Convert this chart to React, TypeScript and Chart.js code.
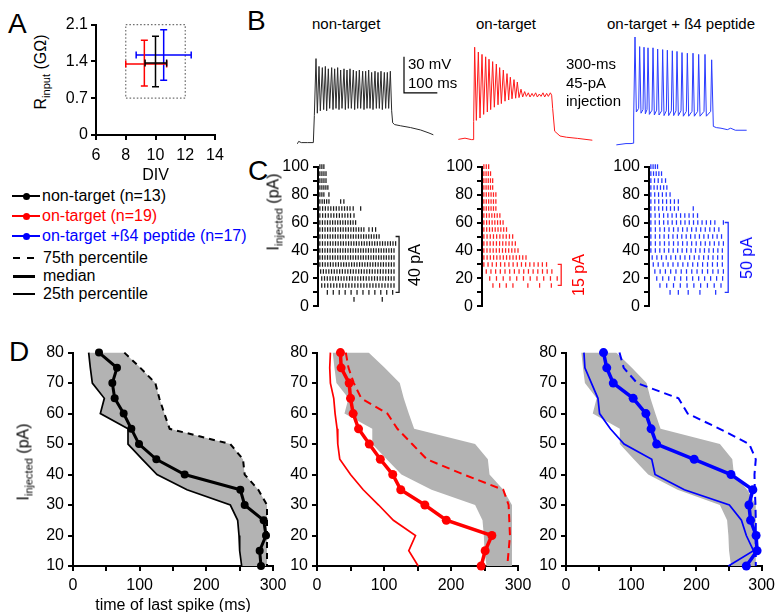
import React, { useEffect, useRef } from 'react';
import { Chart, registerables } from 'chart.js';

Chart.register(...registerables);

const FONT = "'Liberation Sans', Arial, Helvetica, sans-serif";
Chart.defaults.font.family = FONT;
Chart.defaults.font.size = 16;
Chart.defaults.color = '#000';

const BLACK = '#000000';
const RED = '#ff0000';
const BLUE = '#0000ff';
const GREY = '#b3b3b3';

// ---------------- Panel A : DIV vs input resistance ----------------
const aGroups = ['non-target', 'on-target', 'on-target + ß4 peptide'];
const aColors = [BLACK, RED, BLUE];
const aDivMean = [10.0, 9.25, 10.55];
const aDivLow = [9.3, 8.0, 8.7];
const aDivHigh = [10.75, 10.75, 12.4];
const aRinMean = [1.37, 1.35, 1.52];
const aRinLow = [0.92, 0.93, 1.04];
const aRinHigh = [1.88, 1.8, 2.0];
const aXTicks = [6, 8, 10, 12, 14];
const aXTickLabels = ['6', '8', '10', '12', '14'];
const aYTicks = [0, 0.7, 1.4, 2.1];
const aYTickLabels = ['0', '0.7', '1.4', '2.1'];
const aBoxDiv = [8, 12];
const aBoxRin = [0.7, 2.1];

// ---------------- Panel B : voltage traces (ms, mV) ----------------
const blackPreT = [-50, -46, -38, -20, -2, 1];
const blackPreV = [-71.5, -69.5, -70.5, -70.5, -70.5, -48];
const blackSpikeT = [6, 15, 25, 34, 43, 53, 62, 71, 80, 90, 99, 108, 118, 127, 136, 146, 155, 164, 173, 183, 192, 201, 211, 220, 229];
const blackPeakV = [-0.5, -7, -8, -7, -9, -8, -9, -8, -10, -9, -10, -9, -10, -11, -10, -11, -11, -10, -12, -11, -12, -11, -12, -12, -11];
const blackTroughT = [10, 19, 29, 38, 47, 57, 66, 75, 84, 94, 103, 112, 122, 131, 140, 150, 159, 168, 177, 187, 196, 205, 215, 224, 233];
const blackTroughV = [-46, -44, -43, -44, -42, -43, -42, -43, -42, -43, -42, -42, -43, -42, -42, -43, -42, -42, -43, -42, -42, -43, -42, -42, -44];
const blackPostT = [236, 242, 260, 290, 320, 345, 358];
const blackPostV = [-54, -55.5, -56.5, -58, -60, -62.5, -64];

const redPreT = [-44, -24, -5, 0, 2];
const redPreV = [-67.8, -66.8, -68, -68, -53];
const redSpikeT = [5, 16, 27, 38, 48, 59, 70, 80, 91, 102, 112, 123, 133, 144];
const redPeakV = [9, 5, 3, 1, -1, -3, -5, -8, -10, -13, -16, -18, -20, -26];
const redTroughT = [10, 21, 32, 43, 53, 64, 75, 85, 96, 107, 117, 128, 138, 149];
const redTroughV = [-52, -50, -47, -45, -43, -41, -39, -38, -36, -35, -34, -33.5, -33, -32.5];
const redRippleT = [155, 160, 166, 171, 177, 182, 188, 193, 199, 204, 210, 215, 221, 226, 232, 236];
const redRippleV = [-28, -32, -29, -32.5, -29.5, -32, -29, -32.5, -30, -32, -29, -32.5, -29.5, -32, -29, -31];
const redPostT = [239, 245, 261, 280, 314, 358];
const redPostV = [-42, -61, -65, -66, -67, -68.5];

const bluePreT = [-50, -21, -6, 0, 2];
const bluePreV = [-72.4, -71.3, -71.3, -71, -50];
const blueSpikeT = [6, 20, 33, 45, 60, 74, 89, 103, 118, 132, 147, 163, 180, 197, 216, 236];
const bluePeakV = [17.5, 9.5, 9, 8.5, 8.5, 7.5, 7, 6.5, 6, 5.5, 4.5, 4, 4, 3, 3, -1.5];
const blueTroughT = [10, 24, 37, 49, 64, 78, 93, 107, 122, 136, 151, 167, 184, 201, 220];
const blueTroughV = [-45, -46, -46.5, -47, -47.5, -47.5, -48, -48, -48, -48, -48.5, -48.5, -48.5, -48.5, -48.5];
const blueRiseT = [17, 30, 42, 57, 71, 86, 100, 115, 129, 144, 160, 177, 194, 213, 233];
const blueRiseV = [-42, -43, -43, -43.5, -43.5, -44, -44, -44, -44, -44, -44.5, -44.5, -44.5, -44.5, -44.5];
const bluePostT = [241, 250, 264, 283, 293, 307, 341];
const bluePostV = [-57, -58, -58.5, -59.7, -58.5, -60.2, -60.2];

const scaleBarT = [370, 270, 270];
const scaleBarV = [-29, -29, 1];

// ---------------- Panel C : rasters (pA rows, spike times in ms) ----------------
const blackRasterI = [100, 95, 90, 85, 80, 75, 70, 65, 60, 55, 50, 45, 40, 35, 30, 25, 20, 15, 10, 5];
const blackRasterFirst = [7, 7, 7, 7, 7, 7, 7, 7, 7, 7, 7, 7, 7, 7, 7, 10, 14, 14, 35, 0];
const blackRasterLast = [22, 30, 30, 37, 22, 41, 120, 122, 141, 172, 229, 291, 285, 285, 285, 285, 285, 285, 280, 0];
const blackRasterCount = [3, 4, 4, 5, 3, 5, 12, 12, 15, 18, 24, 30, 30, 30, 29, 28, 27, 25, 12, 0];
const blackRasterExtra = [[], [], [], [], [41], [85, 97], [132, 160], [135], [], [191, 204, 216], [], [], [], [], [], [], [], [], [], [135, 241]];

const redRasterI = [100, 95, 90, 85, 80, 75, 70, 65, 60, 55, 50, 45, 40, 35, 30, 25, 20, 15];
const redRasterFirst = [7, 7, 7, 7, 7, 7, 7, 7, 7, 7, 7, 7, 7, 7, 7, 16, 29, 0];
const redRasterLast = [25, 32, 40, 40, 52, 52, 52, 67, 79, 92, 115, 125, 135, 165, 242, 262, 282, 0];
const redRasterCount = [3, 4, 5, 5, 6, 6, 6, 7, 8, 9, 10, 11, 12, 14, 16, 15, 11, 0];
const redRasterExtra = [[], [], [], [], [], [], [], [], [], [], [], [], [], [], [], [], [], [41, 66, 91, 116, 172, 216, 260]];

const blueRasterI = [100, 95, 90, 85, 80, 75, 70, 65, 60, 55, 50, 45, 40, 35, 30, 25, 20, 15, 10];
const blueRasterFirst = [7, 7, 7, 7, 7, 7, 7, 7, 7, 7, 7, 7, 7, 12, 16, 22, 29, 41, 0];
const blueRasterLast = [32, 47, 62, 67, 79, 110, 110, 182, 247, 262, 272, 279, 275, 275, 275, 279, 276, 270, 0];
const blueRasterCount = [4, 5, 5, 6, 6, 8, 8, 12, 16, 16, 17, 17, 17, 16, 15, 14, 12, 10, 0];
const blueRasterExtra = [[], [], [], [], [], [], [166], [], [279], [], [], [], [], [], [], [], [], [], [79, 110, 147, 191, 250]];

const cYTicks = [0, 10, 20, 30, 40, 50, 60, 70, 80, 90, 100];
const cYTickLabels = ['0', '', '20', '', '40', '', '60', '', '80', '', '100'];
const rasterBracketT = [304, 297, 297];
const rasterBracketLo = [10, 15, 10];
const rasterBracketHi = [50, 30, 60];
const rasterBracketLabel = ['40 pA', '15 pA', '50 pA'];

// ---------------- Panel D : time of last spike (ms) vs injected current ----------------
const dCurrents = [80, 75, 70, 65, 60, 55, 50, 45, 40, 35, 30, 25, 20, 15, 10];
const blackMedian = [39, 66, 59, 62.5, 76, 87.5, 99, 125, 167.5, 251, 257.5, 286, 289.5, 280, 282];
const black75 = [77, 101, 123.5, 129.5, 137, 145, 236, 255, 257.5, 278, 291, 291, 291, 291, 291];
const black25 = [23.5, 26, 29, 47, 41, 82.5, 82.5, 104, 126, 171, 236, 247, 249, 250, 253];
const redMedian = [35, 36, 48, 50, 54, 62, 78, 94.5, 113, 125, 161, 193, 261, 251, 245];
const red75 = [43, 47, 55, 66, 105, 120, 142, 164, 219, 278, 286, 287, 288, 286, 284];
const red25 = [20, 19, 20, 25, 27, 30, 31, 34, 50, 69, 92, 114, 147, 137, 151];
const blueMedian = [57.5, 62.5, 72.5, 103, 122.5, 130.5, 139, 196.5, 253, 286.5, 280.5, 283, 291.5, 293, 276.5];
const blue75 = [82, 88.5, 109, 172.5, 186.5, 235.5, 281, 291, 289, 289.5, 290.5, 291, 291, 291, 291];
const blue25 = [27.5, 29, 39, 49, 51.5, 68, 89, 131.5, 136.5, 181.5, 250.5, 269, 276.5, 287.5, 249];
const dXTicks = [0, 50, 100, 150, 200, 250, 300];
const dXTickLabels = ['0', '', '100', '', '200', '', '300'];
const dYTicks = [10, 20, 30, 40, 50, 60, 70, 80];
const dYTickLabels = ['10', '20', '30', '40', '50', '60', '70', '80'];

// ---------------- legend ----------------
const legendSeries = ['non-target (n=13)', 'on-target (n=19)', 'on-target +ß4 peptide (n=17)'];
const legendSeriesColors = [BLACK, RED, BLUE];
const legendStats = ['75th percentile', 'median', '25th percentile'];

// ---------------- helpers ----------------
const pts = (xs: number[], ys: number[]) => xs.map((x, i) => ({ x, y: ys[i] }));

function buildTrace(preT, preV, spikeT, peakV, troughT, troughV, riseT, riseV, midT, midV, postT, postV) {
  const t: number[] = [...preT];
  const v: number[] = [...preV];
  spikeT.forEach((s, i) => {
    t.push(s); v.push(peakV[i]);
    if (i < troughT.length) { t.push(troughT[i]); v.push(troughV[i]); }
    if (i < riseT.length) { t.push(riseT[i]); v.push(riseV[i]); }
  });
  t.push(...midT, ...postT);
  v.push(...midV, ...postV);
  return pts(t, v);
}

function rasterPoints(I, first, last, count, extra) {
  const out: { x: number; y: number }[] = [];
  I.forEach((cur, r) => {
    const n = count[r];
    for (let k = 0; k < n; k++) {
      const t = n === 1 ? first[r] : first[r] + ((last[r] - first[r]) * k) / (n - 1);
      out.push({ x: t, y: cur });
    }
    extra[r].forEach((t) => out.push({ x: t, y: cur }));
  });
  return out;
}

function axis(o: any) {
  return {
    type: 'linear',
    min: o.min,
    max: o.max,
    display: true,
    afterBuildTicks: (s) => { s.ticks = o.ticks.map((v) => ({ value: v })); },
    afterFit: (s) => { if (s.isHorizontal()) s.height = o.size; else s.width = o.size; },
    ticks: {
      autoSkip: false, maxRotation: 0, minRotation: 0, padding: o.pad ?? 3, color: '#000',
      font: { size: 16, family: FONT },
      callback: (v, i) => o.labels[i],
    },
    grid: { display: true, drawOnChartArea: false, drawTicks: true, tickLength: 5, color: '#000', lineWidth: 2 },
    border: { display: true, color: '#000', width: 2 },
    title: o.title
      ? { display: true, text: o.title, color: '#000', font: { size: 16, family: FONT, lineHeight: 1 }, padding: 0 }
      : { display: false },
  };
}

function baseOptions(padding, scales) {
  return {
    responsive: false,
    animation: false,
    events: [],
    layout: { padding },
    plugins: { legend: { display: false }, tooltip: { enabled: false }, title: { display: false } },
    scales,
  };
}

// ---------------- chart configs ----------------
const aPlugin = {
  id: 'aErrorBars',
  afterDatasetsDraw(chart) {
    const { ctx } = chart;
    const x = chart.scales.x;
    const y = chart.scales.y;
    ctx.save();
    ctx.strokeStyle = '#707070';
    ctx.lineWidth = 1.2;
    ctx.setLineDash([1.6, 2]);
    const bx0 = x.getPixelForValue(aBoxDiv[0]);
    const bx1 = x.getPixelForValue(aBoxDiv[1]);
    const by0 = y.getPixelForValue(aBoxRin[1]);
    const by1 = y.getPixelForValue(aBoxRin[0]);
    ctx.strokeRect(bx0, by0, bx1 - bx0, by1 - by0);
    ctx.setLineDash([]);
    ctx.lineWidth = 1.5;
    const cap = 3.5;
    [2, 1, 0].forEach((i) => {
      ctx.strokeStyle = aColors[i];
      const cx = x.getPixelForValue(aDivMean[i]);
      const cy = y.getPixelForValue(aRinMean[i]);
      const xl = x.getPixelForValue(aDivLow[i]);
      const xh = x.getPixelForValue(aDivHigh[i]);
      const yl = y.getPixelForValue(aRinLow[i]);
      const yh = y.getPixelForValue(aRinHigh[i]);
      ctx.beginPath();
      ctx.moveTo(xl, cy); ctx.lineTo(xh, cy);
      ctx.moveTo(xl, cy - cap); ctx.lineTo(xl, cy + cap);
      ctx.moveTo(xh, cy - cap); ctx.lineTo(xh, cy + cap);
      ctx.moveTo(cx, yl); ctx.lineTo(cx, yh);
      ctx.moveTo(cx - cap, yl); ctx.lineTo(cx + cap, yl);
      ctx.moveTo(cx - cap, yh); ctx.lineTo(cx + cap, yh);
      ctx.stroke();
    });
    ctx.restore();
  },
};

const makeA = () => ({
  type: 'scatter',
  data: { datasets: [{ label: 'mean', data: pts(aDivMean, aRinMean), pointRadius: 0 }] },
  options: baseOptions({ top: 12, left: 0, right: 20, bottom: 0 }, {
    x: axis({ min: 6, max: 14, ticks: aXTicks, labels: aXTickLabels, size: 49, pad: 6, title: 'DIV' }),
    y: axis({ min: 0, max: 2.1, ticks: aYTicks, labels: aYTickLabels, size: 40, pad: 3 }),
  }),
  plugins: [aPlugin],
});

function makeTrace(data, color, withScaleBar) {
  const datasets: any[] = [
    { data, borderColor: color, borderWidth: 1, pointRadius: 0, tension: 0, fill: false },
  ];
  if (withScaleBar) {
    datasets.push({ data: pts(scaleBarT, scaleBarV), borderColor: '#000', borderWidth: 1.2, pointRadius: 0, tension: 0, fill: false });
  }
  return () => ({
    type: 'line',
    data: { datasets },
    options: baseOptions(0, {
      x: { type: 'linear', display: false, min: -60, max: 390 },
      y: { type: 'linear', display: false, min: -80.83, max: 31.67 },
    }),
  });
}

function makeRaster(idx, data, color) {
  const bracket = {
    id: 'bracket' + idx,
    afterDraw(chart) {
      const { ctx } = chart;
      const x = chart.scales.x.getPixelForValue(rasterBracketT[idx]);
      const y0 = chart.scales.y.getPixelForValue(rasterBracketHi[idx]);
      const y1 = chart.scales.y.getPixelForValue(rasterBracketLo[idx]);
      ctx.save();
      ctx.strokeStyle = color;
      ctx.lineWidth = 1.3;
      ctx.beginPath();
      ctx.moveTo(x - 3.5, y0); ctx.lineTo(x, y0); ctx.lineTo(x, y1); ctx.lineTo(x - 3.5, y1);
      ctx.stroke();
      ctx.restore();
    },
  };
  return () => ({
    type: 'scatter',
    data: {
      datasets: [{
        data,
        pointStyle: 'line', pointRotation: 90, rotation: 90,
        pointRadius: 2.3, radius: 2.3,
        pointBorderWidth: 1.25, borderWidth: 1.25,
        pointBorderColor: color, borderColor: color, backgroundColor: color,
        clip: false,
      }],
    },
    options: baseOptions({ top: 12, left: 0, right: 40, bottom: 12 }, {
      x: { type: 'linear', display: false, min: 0, max: 300 },
      y: axis({ min: 0, max: 100, ticks: cYTicks, labels: cYTickLabels, size: 40, pad: 4 }),
    }),
    plugins: [bracket],
  });
}

function makeD(color, med, p75, p25, medWidth, medRadius, dash, title, xSize, padRight) {
  const greyShape = pts([...black75, ...[...black25].reverse()], [...dCurrents, ...[...dCurrents].reverse()]);
  return () => ({
    type: 'line',
    data: {
      datasets: [
        { data: pts(med, dCurrents), borderColor: color, backgroundColor: color, borderWidth: medWidth, pointRadius: medRadius, pointBorderWidth: 0, tension: 0, clip: false, fill: false },
        { data: pts(p75, dCurrents), borderColor: color, borderWidth: 2, borderDash: dash, pointRadius: 0, tension: 0, clip: false, fill: false },
        { data: pts(p25, dCurrents), borderColor: color, borderWidth: 1.7, pointRadius: 0, tension: 0, clip: false, fill: false },
        { data: greyShape, borderColor: 'rgba(0,0,0,0)', borderWidth: 0, backgroundColor: GREY, pointRadius: 0, tension: 0, fill: 'shape' },
      ],
    },
    options: baseOptions({ top: 12, left: 0, right: padRight, bottom: 0 }, {
      x: axis({ min: 0, max: 300, ticks: dXTicks, labels: dXTickLabels, size: xSize, pad: 5, title }),
      y: axis({ min: 10, max: 80, ticks: dYTicks, labels: dYTickLabels, size: 40, pad: 4 }),
    }),
  });
}

// ---------------- components ----------------
function ChartBox({ left, top, width, height, make }) {
  const ref = useRef<HTMLCanvasElement>(null);
  useEffect(() => {
    const chart = new Chart(ref.current as any, make() as any);
    return () => chart.destroy();
  }, []);
  return <canvas ref={ref} width={width} height={height} style={{ position: 'absolute', left, top, width, height }} />;
}

function T({ x, y, size = 16, color = '#000', children }: any) {
  return (
    <div style={{ position: 'absolute', left: x, top: y - 0.489 * size, fontSize: size, lineHeight: `${size}px`, color, whiteSpace: 'nowrap' }}>
      {children}
    </div>
  );
}

function RT({ x, y, size = 16, color = '#000', children }: any) {
  return (
    <div style={{ position: 'absolute', left: x, top: y, fontSize: size, lineHeight: `${size}px`, color, whiteSpace: 'nowrap', transform: 'translate(-50%, -50%) rotate(-90deg)' }}>
      {children}
    </div>
  );
}

const Sub = ({ children }: any) => <span style={{ fontSize: 11, position: 'relative', top: 4 }}>{children}</span>;

export default function App() {
  const traces = [
    buildTrace(blackPreT, blackPreV, blackSpikeT, blackPeakV, blackTroughT, blackTroughV, [], [], [], [], blackPostT, blackPostV),
    buildTrace(redPreT, redPreV, redSpikeT, redPeakV, redTroughT, redTroughV, [], [], redRippleT, redRippleV, redPostT, redPostV),
    buildTrace(bluePreT, bluePreV, blueSpikeT, bluePeakV, blueTroughT, blueTroughV, blueRiseT, blueRiseV, [], [], bluePostT, bluePostV),
  ];
  const rasters = [
    rasterPoints(blackRasterI, blackRasterFirst, blackRasterLast, blackRasterCount, blackRasterExtra),
    rasterPoints(redRasterI, redRasterFirst, redRasterLast, redRasterCount, redRasterExtra),
    rasterPoints(blueRasterI, blueRasterFirst, blueRasterLast, blueRasterCount, blueRasterExtra),
  ];
  const legendRowY = [196, 216, 236];
  const statRowY = [258, 276, 294];
  return (
    <div style={{ position: 'absolute', left: 0, top: 0, width: 780, height: 612, overflow: 'hidden', background: '#fff', fontFamily: FONT, color: '#000' }}>
      {/* Panel letters */}
      <T x={8} y={24} size={28}>A</T>
      <T x={247} y={21} size={28}>B</T>
      <T x={248} y={171} size={28}>C</T>
      <T x={9} y={352} size={28}>D</T>

      {/* Panel A */}
      <ChartBox left={56} top={12} width={179} height={172} make={makeA} />
      <RT x={41} y={72}>R<Sub>input</Sub> (GΩ)</RT>

      {/* Legend */}
      {legendSeries.map((s, i) => (
        <React.Fragment key={s}>
          <div style={{ position: 'absolute', left: 12, top: legendRowY[i] - 1, width: 28, height: 2, background: legendSeriesColors[i] }} />
          <div style={{ position: 'absolute', left: 23, top: legendRowY[i] - 3.5, width: 7, height: 7, borderRadius: '50%', background: legendSeriesColors[i] }} />
          <T x={42} y={legendRowY[i]} color={legendSeriesColors[i]}>{s}</T>
        </React.Fragment>
      ))}
      <div style={{ position: 'absolute', left: 13, top: statRowY[0] - 1, width: 7, height: 2, background: '#000' }} />
      <div style={{ position: 'absolute', left: 27, top: statRowY[0] - 1, width: 7, height: 2, background: '#000' }} />
      <div style={{ position: 'absolute', left: 13, top: statRowY[1] - 1.5, width: 22, height: 3.5, background: '#000' }} />
      <div style={{ position: 'absolute', left: 13, top: statRowY[2] - 1, width: 22, height: 1.8, background: '#000' }} />
      {legendStats.map((s, i) => (
        <T key={s} x={43} y={statRowY[i]}>{s}</T>
      ))}

      {/* Panel B */}
      <T x={312} y={23} size={15}>{aGroups[0]}</T>
      <T x={476} y={23} size={15}>{aGroups[1]}</T>
      <T x={607} y={23} size={15}>{aGroups[2]}</T>
      <ChartBox left={294} top={20} width={150} height={135} make={makeTrace(traces[0], '#2a2a2a', true)} />
      <ChartBox left={453} top={20} width={150} height={135} make={makeTrace(traces[1], '#ff1a1a', false)} />
      <ChartBox left={613} top={20} width={150} height={135} make={makeTrace(traces[2], '#2a3cff', false)} />
      <T x={408} y={63} size={15}>30 mV</T>
      <T x={408} y={82} size={15}>100 ms</T>
      <T x={566} y={63} size={15}>300-ms</T>
      <T x={566} y={82} size={15}>45-pA</T>
      <T x={566} y={100} size={15}>injection</T>

      {/* Panel C */}
      <ChartBox left={278} top={153} width={160} height={167} make={makeRaster(0, rasters[0], '#1a1a1a')} />
      <ChartBox left={442} top={153} width={160} height={167} make={makeRaster(1, rasters[1], '#ff2020')} />
      <ChartBox left={609} top={153} width={160} height={167} make={makeRaster(2, rasters[2], '#2233ff')} />
      <RT x={274} y={212}>I<Sub>injected</Sub> (pA)</RT>
      <RT x={415} y={265}>{rasterBracketLabel[0]}</RT>
      <RT x={579} y={275} color={RED}>{rasterBracketLabel[1]}</RT>
      <RT x={747} y={258} color={BLUE}>{rasterBracketLabel[2]}</RT>

      {/* Panel D */}
      <ChartBox left={33} top={339} width={260} height={275} make={makeD(BLACK, blackMedian, black75, black25, 3, 4, [6, 5], 'time of last spike (ms)', 48, 20)} />
      <ChartBox left={277} top={339} width={261} height={257} make={makeD(RED, redMedian, red75, red25, 3.5, 4.5, [8, 5], null, 30, 20)} />
      <ChartBox left={526} top={339} width={254} height={257} make={makeD(BLUE, blueMedian, blue75, blue25, 3.5, 4.5, [8, 5], null, 30, 14)} />
      <RT x={24} y={462}>I<Sub>injected</Sub> (pA)</RT>
    </div>
  );
}
